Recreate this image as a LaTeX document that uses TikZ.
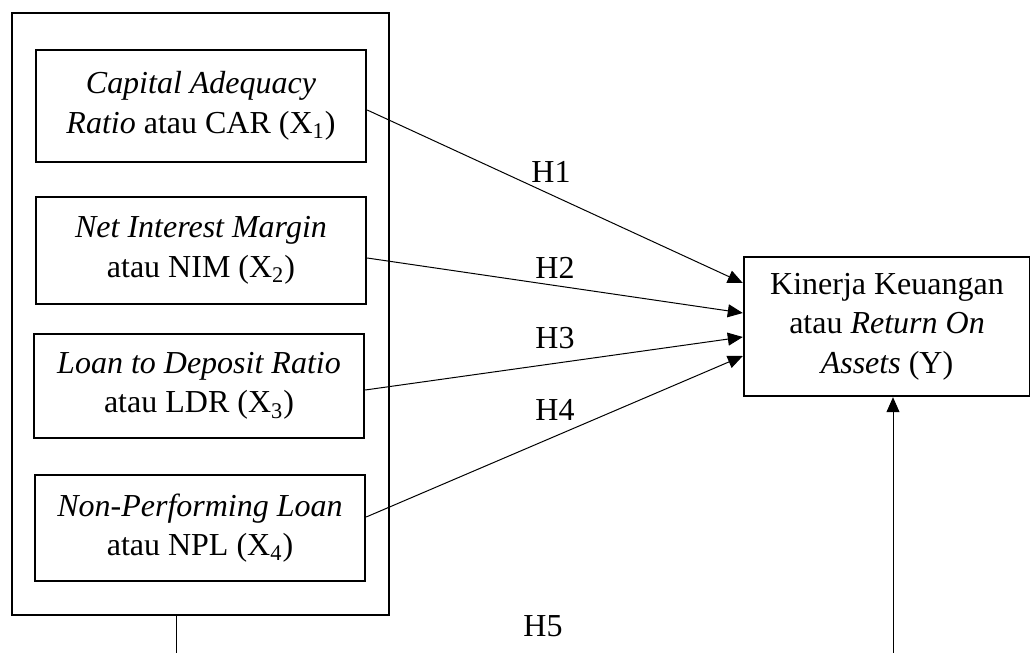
\documentclass[tikz,border=0pt]{standalone}
\usepackage{fontspec}
\setmainfont{Liberation Serif}
\usetikzlibrary{arrows.meta,positioning}

\begin{document}
\begin{tikzpicture}[x=0.5pt,y=-0.5pt,
    var/.style={draw,line width=1.2pt,align=center,inner sep=0pt,
        font=\fontsize{16}{19.75}\selectfont},
    arr/.style={-{Triangle[length=7.5pt,width=6.5pt]},line width=0.5pt},
    hyp/.style={font=\fontsize{16}{19.75}\selectfont}]
    \useasboundingbox (0,0) rectangle (1030,653);
    \node[draw,line width=1.2pt,minimum width=188.5pt,minimum height=301pt] (vars) at (200.5,314) {};
    \node[var,minimum width=165pt,minimum height=56pt] (car) at (201,106)
        {\textit{Capital Adequacy}\\\textit{Ratio} atau CAR (X\textsubscript{1})};
    \node[var,minimum width=165pt,minimum height=53.5pt] (nim) at (201,250.5)
        {\textit{Net Interest Margin}\\atau NIM (X\textsubscript{2})};
    \node[var,minimum width=165pt,minimum height=52pt] (ldr) at (199,386)
        {\textit{Loan to Deposit Ratio}\\atau LDR (X\textsubscript{3})};
    \node[var,minimum width=165pt,minimum height=53pt] (npl) at (200,528)
        {\textit{Non-Performing Loan}\\atau NPL (X\textsubscript{4})};
    \node[var,minimum width=143pt,minimum height=69.5pt] (roa) at (887,326.5)
        {Kinerja Keuangan\\atau \textit{Return On}\\\textit{Assets} (Y)};
    \node[hyp] (h1) at (551,172) {H1};
    \node[hyp] (h2) at (555,268) {H2};
    \node[hyp] (h3) at (555,338) {H3};
    \node[hyp] (h4) at (555,410) {H4};
    \node[hyp] (h5) at (543,626) {H5};
    \coordinate (b1) at (176,653);
    \coordinate (b2) at (893,653);
    \draw[arr] ([yshift=-2pt]car.east) -- ([yshift=21.75pt]roa.west);
    \draw[arr] ([yshift=-3.75pt]nim.east) -- ([yshift=6.75pt]roa.west);
    \draw[arr] ([yshift=-2pt]ldr.east) -- ([yshift=-5.25pt]roa.west);
    \draw[arr] ([yshift=5.5pt]npl.east) -- ([yshift=-14.75pt]roa.west);
    \draw[line width=0.5pt] (vars.south -| b1) -- (b1);
    \draw[arr] (b2) -- (b2 |- roa.south);
\end{tikzpicture}
\end{document}
